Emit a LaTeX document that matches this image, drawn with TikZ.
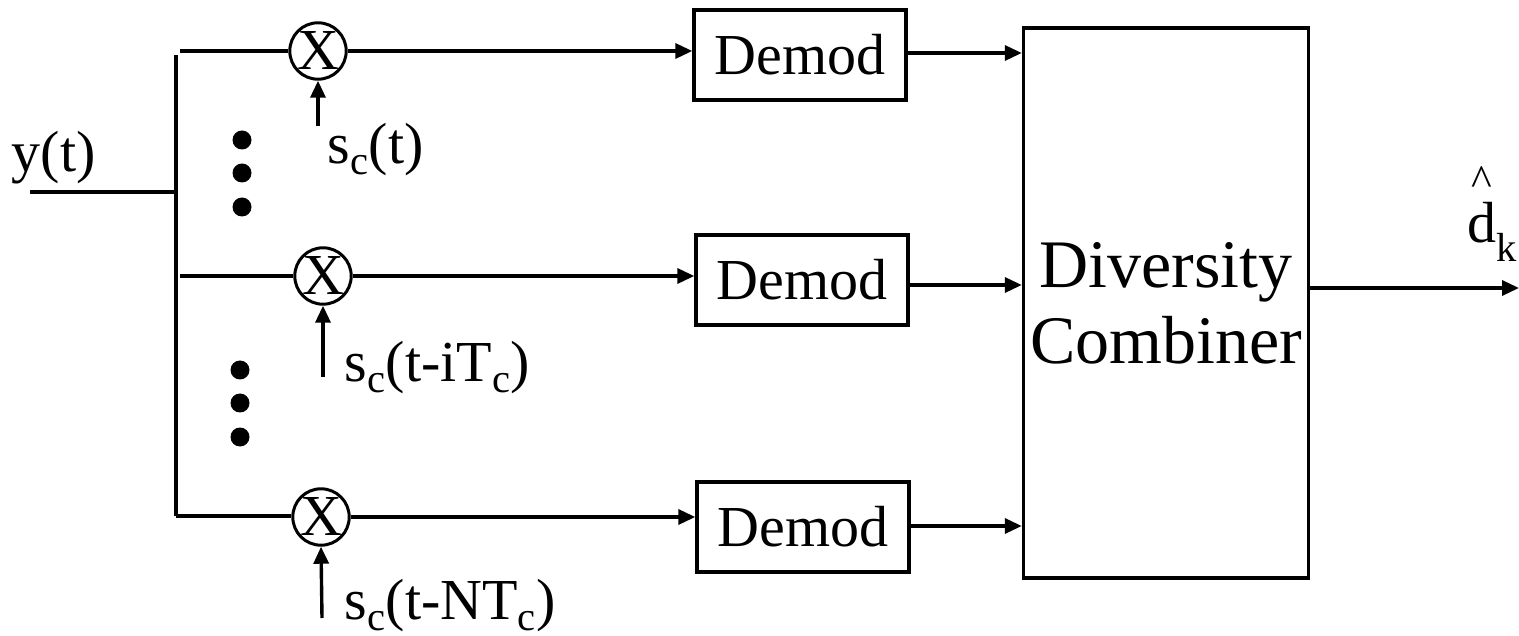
\documentclass[tikz,border=0pt]{standalone}
\usepackage{fontspec}
\newfontfamily\tnr{Liberation Serif}
\usetikzlibrary{arrows.meta}
\newcommand{\hatd}{\ooalign{d\cr\hidewidth\raisebox{0.8em}{\fontsize{44}{44}\selectfont\^{}}\hidewidth\cr}}
\begin{document}
\begin{tikzpicture}[x=1pt,y=-1pt,
  line width=3.4pt,
  >={Triangle[length=17pt,width=15pt]},
  mixer/.style={circle,draw,line width=3pt,minimum size=56pt,inner sep=0pt,
    font=\tnr\fontsize{58}{58}\selectfont},
  demod/.style={draw,line width=3.4pt,minimum width=212pt,minimum height=90pt,inner sep=0pt,
    font=\tnr\fontsize{58}{58}\selectfont},
  combiner/.style={draw,line width=3.4pt,minimum width=285pt,minimum height=550pt,inner sep=0pt,
    align=center,font=\tnr\fontsize{68}{76}\selectfont},
  lbl/.style={inner sep=0pt,font=\tnr\fontsize{58}{58}\selectfont},
  dot/.style={circle,fill,inner sep=0pt,minimum size=19pt}]
\useasboundingbox (0,0) rectangle (1519,636);

% input and distribution bus
\coordinate (in) at (30,192);
\coordinate (bj) at (176,192);
\coordinate (btop) at (176,55);
\coordinate (bbot) at (176,516);
\draw (in) -- (bj);
\draw (btop) -- (bbot);
\node[lbl,anchor=west] (ylab) at (10,158) {y(t)};

% multipliers
\node[mixer] (m1) at (318,51) {X};
\node[mixer] (m2) at (323,276) {X};
\node[mixer] (m3) at (321,517) {X};

% demodulators and combiner
\node[demod] (d1) at (800,55) {Demod};
\node[demod] (d2) at (802,280) {Demod};
\node[demod] (d3) at (803,527) {Demod};
\node[combiner] (c) at (1166,303) {Diversity\\Combiner};

% branches from the bus
\coordinate (t1) at (180,51);
\draw (t1) -- (m1.west);
\draw (bj |- m2.west) ++(4,0) -- (m2.west);
\draw (bbot) -- (m3.west |- bbot);

\draw[->] (m1.east) -- (d1.west |- m1.east);
\draw[->] (m2.east) -- (d2.west |- m2.east);
\draw[->] (m3.east) -- (d3.west |- m3.east);

\draw[->] (d1.east |- 0,53) -- (c.west |- 0,53);
\draw[->] (d2.east |- 0,285) -- (c.west |- 0,285);
\draw[->] (d3.east |- 0,526) -- (c.west |- 0,526);

% output
\coordinate (out) at (1519,288);
\draw[->] (c.east |- out) -- (out);
\node[lbl,anchor=east] (dk) at (1519,232) {\hatd\textsubscript{k}};

% spreading-code inputs
\coordinate (s1) at (318,126);
\coordinate (s2) at (323,377);
\coordinate (s3) at (322,618);
\draw[->] (s1) -- (m1.south);
\draw[->] (s2) -- (m2.south);
\draw[->] (s3) -- (m3.south);
\node[lbl,anchor=west] (l1) at (326,150) {s\textsubscript{c}(t)};
\node[lbl,anchor=west] (l2) at (343,368) {s\textsubscript{c}(t-iT\textsubscript{c})};
\node[lbl,anchor=west] (l3) at (343,606) {s\textsubscript{c}(t-NT\textsubscript{c})};

% ellipsis dots
\node[dot] (a1) at (242,140) {};
\node[dot] (a2) at (242,173) {};
\node[dot] (a3) at (242,207) {};
\node[dot] (b1) at (240,370) {};
\node[dot] (b2) at (240,403) {};
\node[dot] (b3) at (240,437) {};
\end{tikzpicture}
\end{document}
